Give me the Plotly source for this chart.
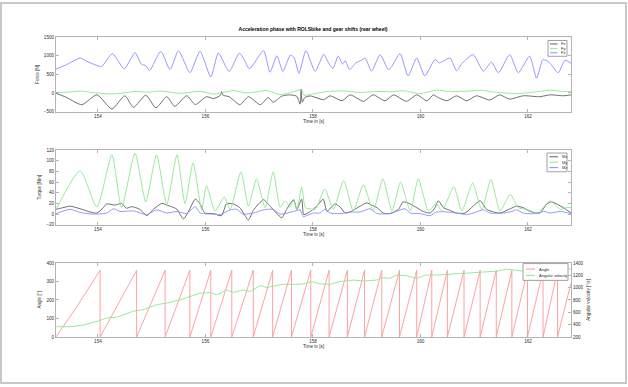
import plotly.graph_objects as go

# ---------------- data ----------------
fz_t = [153.22, 153.42, 153.67, 153.79, 153.98, 154.07, 154.27, 154.49, 154.69, 154.81,
        154.89, 154.96, 155.17, 155.34, 155.50, 155.71, 155.90, 156.10, 156.24, 156.44,
        156.63, 156.72, 156.82, 157.08, 157.20, 157.33, 157.44, 157.58, 157.65, 157.74,
        157.87, 158.04, 158.20, 158.29, 158.37, 158.47, 158.55, 158.60, 158.68, 158.80,
        158.90, 158.97, 159.09, 159.25, 159.40, 159.45, 159.62, 159.77, 159.93, 160.08,
        160.27, 160.35, 160.43, 160.55, 160.67, 160.78, 160.98, 161.17, 161.32, 161.45,
        161.66, 161.82, 162.03, 162.16, 162.28, 162.40, 162.56, 162.69, 162.80]
fz_v = [640, 765, 940, 855, 740, 715, 1060, 650, 1085, 770,
        740, 600, 1120, 630, 1140, 545, 1120, 430, 1075, 580,
        1075, 900, 650, 1140, 560, 1000, 580, 1020, 950, 530,
        1140, 580, 1040, 810, 660, 990, 780, 870, 630, 810,
        880, 940, 590, 1030, 630, 680, 1060, 460, 940, 460,
        900, 810, 860, 940, 600, 810, 1030, 590, 830, 545,
        1030, 545, 990, 400, 900, 820, 545, 880, 800]

fx_t = [153.22, 153.40, 153.70, 153.98, 154.26, 154.50, 154.66, 154.89, 155.08, 155.28,
        155.43, 155.65, 155.81, 156.02, 156.15, 156.28, 156.30, 156.33, 156.44, 156.64,
        156.80, 157.02, 157.17, 157.26, 157.42, 157.57, 157.70, 157.76, 157.78, 157.80,
        157.85, 157.95, 158.20, 158.32, 158.54, 158.69, 158.94, 159.12, 159.34, 159.50,
        159.74, 159.93, 160.12, 160.24, 160.30, 160.49, 160.67, 160.86, 161.04, 161.29,
        161.47, 161.66, 161.91, 162.22, 162.41, 162.66, 162.80]
fx_v = [-5, -110, -315, -50, -430, -75, -385, -60, -400, -100,
        -360, -75, -310, -100, -150, -60, 40, -60, -100, -315,
        -100, -315, -120, -250, -85, -50, -90, -300, 100, -250,
        -120, -80, -180, -75, -210, -50, -225, -50, -210, -50,
        -225, -50, -210, -50, -100, -210, -75, -210, -75, -190,
        -50, -165, -75, -100, -50, -75, -50]

fy_t = [153.22, 153.42, 153.67, 153.98, 154.22, 154.41, 154.69, 154.95, 155.15, 155.53,
        155.90, 156.15, 156.52, 156.77, 157.14, 157.39, 157.57, 157.79, 157.83, 157.95,
        158.26, 158.57, 158.88, 159.19, 159.45, 159.68, 159.99, 160.30, 160.55, 160.85,
        161.11, 161.42, 161.79, 162.03, 162.41, 162.66, 162.80]
fy_v = [10, 20, 50, 0, -25, -10, 40, 20, 55, -10,
        45, -30, 65, 0, 65, -45, 10, 80, -60, -40,
        40, 55, 15, 40, 35, 60, -15, 75, 40, 45,
        75, 15, -15, 10, 75, 40, 35]

mx_t = [153.22, 153.39, 153.48, 153.67, 153.85, 153.98, 154.10, 154.16, 154.32, 154.44,
        154.53, 154.63, 154.78, 154.91, 155.03, 155.19, 155.28, 155.37, 155.47, 155.59,
        155.68, 155.81, 155.90, 155.99, 156.15, 156.30, 156.39, 156.52, 156.64, 156.80,
        156.89, 157.08, 157.20, 157.32, 157.42, 157.51, 157.64, 157.70, 157.79, 157.83,
        157.95, 158.07, 158.19, 158.26, 158.35, 158.41, 158.50, 158.60, 158.69, 158.88,
        159.00, 159.09, 159.19, 159.31, 159.43, 159.59, 159.68, 159.81, 159.93, 160.05,
        160.18, 160.27, 160.33, 160.43, 160.55, 160.67, 160.83, 160.98, 161.11, 161.23,
        161.36, 161.48, 161.67, 161.79, 161.91, 162.04, 162.22, 162.35, 162.44, 162.57,
        162.69, 162.80]
mx_v = [9, 13, 15, 10, 4, 2, 12, 19, 17, 20,
        11, 14, 9, -3, 9, 20, 17, 14, 9, -9,
        4, 28, 19, 2, 1, -3, 19, 19, 12, -11,
        7, 27, 15, 2, -7, 9, 27, 9, 28, -1,
        5, 15, 28, 5, 14, 19, 14, 2, 4, 15,
        21, 17, 12, 2, 1, 9, 23, 19, 12, 5,
        2, 12, 25, 12, 7, 2, 2, 15, 25, 9,
        4, 2, 10, 15, 12, 5, 2, 19, 23, 17,
        10, 2]

my_t = [153.22, 153.67, 153.98, 154.26, 154.44, 154.69, 154.89, 155.09, 155.28, 155.47,
        155.62, 155.77, 155.93, 156.02, 156.18, 156.35, 156.46, 156.66, 156.80, 156.95,
        157.11, 157.26, 157.39, 157.48, 157.57, 157.64, 157.70, 157.79, 157.86, 157.95,
        158.04, 158.22, 158.38, 158.57, 158.75, 158.94, 159.12, 159.30, 159.47, 159.63,
        159.81, 159.96, 160.15, 160.29, 160.40, 160.62, 160.77, 160.97, 161.14, 161.31,
        161.48, 161.67, 161.82, 161.98, 162.16, 162.29, 162.41, 162.60, 162.72, 162.80]
my_v = [9, 81, 13, 111, 12, 114, 23, 111, 18, 111,
        20, 96, 9, 53, 6, 32, 9, 79, 15, 66,
        12, 79, 13, 25, 14, 25, 9, 50, 12, 10,
        8, 47, 9, 63, 6, 55, 6, 66, 6, 60,
        6, 66, 6, 20, 6, 51, 6, 58, 8, 65,
        6, 37, 12, 9, 2, 13, 25, 9, 13, 12]

mz_t = [153.22, 153.48, 153.67, 153.91, 154.16, 154.29, 154.41, 154.66, 154.91, 155.09,
        155.28, 155.47, 155.65, 155.81, 155.90, 156.15, 156.27, 156.46, 156.58, 156.70,
        156.89, 157.08, 157.26, 157.39, 157.64, 157.76, 157.82, 157.88, 158.01, 158.13,
        158.22, 158.32, 158.50, 158.69, 158.88, 159.06, 159.19, 159.43, 159.71, 159.81,
        159.99, 160.18, 160.30, 160.49, 160.67, 160.86, 161.04, 161.17, 161.29, 161.54,
        161.70, 161.79, 161.91, 162.16, 162.29, 162.41, 162.60, 162.80]
mz_v = [1, 9, 3, 0, 2, 10, 5, 6, -1, 8,
        2, 5, 1, 14, 2, 0, -1, 8, 9, 0,
        2, 8, 9, 0, 5, 8, -5, -3, 2, 2,
        9, 2, 1, 4, 4, 10, 1, 1, 10, 2,
        1, -3, 4, 4, 2, -1, 4, 8, 2, 2,
        5, 8, 2, 1, 5, 2, 5, 1]

angle_t = [153.22, 153.60, 154.04, 154.04, 154.72, 154.72, 155.25, 155.25, 155.71, 155.71,
           156.10, 156.10, 156.49, 156.49, 156.89, 156.89, 157.25, 157.25, 157.60, 157.60,
           157.96, 157.96, 158.30, 158.30, 158.64, 158.64, 158.96, 158.96, 159.28, 159.28,
           159.61, 159.61, 159.93, 159.93, 160.21, 160.21, 160.50, 160.50, 160.81, 160.81,
           161.11, 161.11, 161.41, 161.41, 161.70, 161.70, 161.99, 161.99, 162.28, 162.28,
           162.55, 162.55, 162.80]
angle_deg = [0, 160, 360, 0, 360, 0, 360, 0, 360, 0,
             360, 0, 360, 0, 360, 0, 360, 0, 360, 0,
             360, 0, 360, 0, 360, 0, 360, 0, 360, 0,
             360, 0, 360, 0, 360, 0, 360, 0, 360, 0,
             360, 0, 360, 0, 360, 0, 360, 0, 360, 0,
             360, 0, 290]

omega_t = [153.22, 153.48, 153.73, 154.04, 154.16, 154.35, 154.66, 154.84, 155.09, 155.28,
           155.53, 155.71, 155.90, 156.09, 156.21, 156.39, 156.52, 156.70, 156.83, 157.02,
           157.14, 157.32, 157.44, 157.64, 157.76, 157.88, 157.98, 158.13, 158.32, 158.50,
           158.75, 158.94, 159.19, 159.28, 159.43, 159.56, 159.74, 159.93, 160.09, 160.30,
           160.49, 160.67, 160.92, 161.17, 161.42, 161.60, 161.79, 161.91, 162.03, 162.29,
           162.53, 162.80]
omega_v = [365, 365, 392, 466, 509, 519, 616, 642, 722, 749,
           802, 856, 909, 920, 882, 962, 920, 962, 936, 1032,
           1000, 1032, 1053, 1053, 1053, 1069, 1096, 1060, 1053, 1096,
           1122, 1106, 1122, 1160, 1149, 1202, 1192, 1149, 1202, 1202,
           1213, 1229, 1245, 1256, 1266, 1298, 1282, 1266, 1320, 1300,
           1310, 1300]

x_ticks = [154, 156, 158, 160, 162]
x_range = [153.22, 162.80]

# ---------------- styling ----------------
W, H = 628, 387
FONT = "Liberation Sans, Arial, sans-serif"
C_K = "rgb(95,95,95)"
C_G = "rgb(140,232,140)"
C_B = "rgb(140,140,255)"
C_R = "rgb(255,150,150)"
AX = "rgb(180,180,180)"
TXT = "rgb(45,45,45)"
FS = 4.6


def px(x):
    return x / W


def py(y):
    return 1 - y / H


fig = go.Figure()


def line(x, y, name, color, xa, ya, shape="spline"):
    fig.add_trace(go.Scatter(
        x=x, y=y, name=name, mode="lines", showlegend=False,
        line=dict(color=color, width=0.9, shape=shape,
                  smoothing=0.6 if shape == "spline" else None),
        xaxis=xa, yaxis=ya))


line(fx_t, fx_v, "Fx", C_K, "x", "y")
line(fy_t, fy_v, "Fy", C_G, "x", "y")
line(fz_t, fz_v, "Fz", C_B, "x", "y")
line(mx_t, mx_v, "Mx", C_K, "x2", "y2")
line(my_t, my_v, "My", C_G, "x2", "y2")
line(mz_t, mz_v, "Mz", C_B, "x2", "y2")
line(angle_t, angle_deg, "Angle", C_R, "x3", "y3", shape="linear")
line(omega_t, omega_v, "Angular velocity", C_G, "x3", "y4", shape="linear")

xdom = [px(56), px(571)]
doms = [[py(111), py(35.7)], [py(225.7), py(150)], [py(339.3), py(264.3)]]

common_axis = dict(showline=True, linecolor=AX, linewidth=1, ticks="inside",
                   ticklen=3, tickcolor=AX, tickwidth=1, showgrid=False,
                   zeroline=False, tickfont=dict(size=FS, color=TXT, family=FONT))


def xax(anchor):
    return dict(common_axis, domain=xdom, anchor=anchor, range=x_range,
                tickvals=x_ticks, mirror="ticks",
                title=dict(text="Time in [s]", font=dict(size=FS, color=TXT, family=FONT),
                           standoff=1))


def yax(dom, anchor, rng, dtick, title, mirror="ticks"):
    return dict(common_axis, domain=dom, anchor=anchor, range=rng, dtick=dtick,
                tick0=rng[0], mirror=mirror,
                title=dict(text=title, font=dict(size=FS, color=TXT, family=FONT),
                           standoff=4))


fig.update_layout(
    width=W, height=H, margin=dict(l=0, r=0, t=0, b=0),
    paper_bgcolor="white", plot_bgcolor="white",
    font=dict(family=FONT, size=FS, color=TXT),
    xaxis=xax("y"),
    yaxis=yax(doms[0], "x", [-500, 1500], 500, "Force [N]"),
    xaxis2=xax("y2"),
    yaxis2=yax(doms[1], "x2", [-20, 120], 20, "Torque [Nm]"),
    xaxis3=xax("y3"),
    yaxis3=yax(doms[2], "x3", [0, 400], 100, "Angle [°]", mirror=False),
    yaxis4=dict(common_axis, domain=doms[2], anchor="x3", overlaying="y3", side="right",
                range=[200, 1400], dtick=200, tick0=200,
                title=dict(text="Angular velocity [°/s]",
                           font=dict(size=FS, color=TXT, family=FONT), standoff=4)),
    title=dict(text="Acceleration phase with ROLSbike and gear shifts (rear wheel)",
               x=px(313), xanchor="center", y=py(29), yanchor="middle",
               font=dict(size=5, family=FONT, color="black", weight="bold")),
    showlegend=False,
)

shapes = []
annotations = []
# outer frame of the picture
shapes.append(dict(type="rect", xref="paper", yref="paper", x0=px(1), x1=px(626),
                   y0=py(386), y1=py(1), line=dict(color="rgb(200,200,200)", width=2)))


def legend_box(x0, x1, y0, y1, entries, lx0, lx1, tx):
    shapes.append(dict(type="rect", xref="paper", yref="paper", x0=px(x0), x1=px(x1),
                       y0=py(y1), y1=py(y0), fillcolor="white",
                       line=dict(color="rgb(160,160,160)", width=1), layer="above"))
    for (label, color, yy) in entries:
        shapes.append(dict(type="line", xref="paper", yref="paper", x0=px(lx0), x1=px(lx1),
                           y0=py(yy), y1=py(yy), line=dict(color=color, width=1),
                           layer="above"))
        annotations.append(dict(text=label, xref="paper", yref="paper", x=px(tx), y=py(yy),
                                xanchor="left", yanchor="middle", showarrow=False,
                                font=dict(size=4, color=TXT, family=FONT)))


legend_box(548, 567, 39, 55, [("Fx", C_K, 42.5), ("Fy", C_G, 47.0), ("Fz", C_B, 51.5)],
           550, 557.5, 558.5)
legend_box(547, 567, 153, 172, [("Mx", C_K, 156.8), ("My", C_G, 162.3), ("Mz", C_B, 167.8)],
           549.5, 558, 559.5)
legend_box(523, 568, 265, 282, [("Angle", C_R, 270.5), ("Angular velocity", C_G, 277)],
           526, 535, 537)

fig.update_layout(shapes=shapes, annotations=annotations)

# the page body has a default 8px margin; remove it so the figure sits at the window origin
fig.write_html("out.html", config={"displayModeBar": False},
               post_script="document.body.style.margin='0px';")
